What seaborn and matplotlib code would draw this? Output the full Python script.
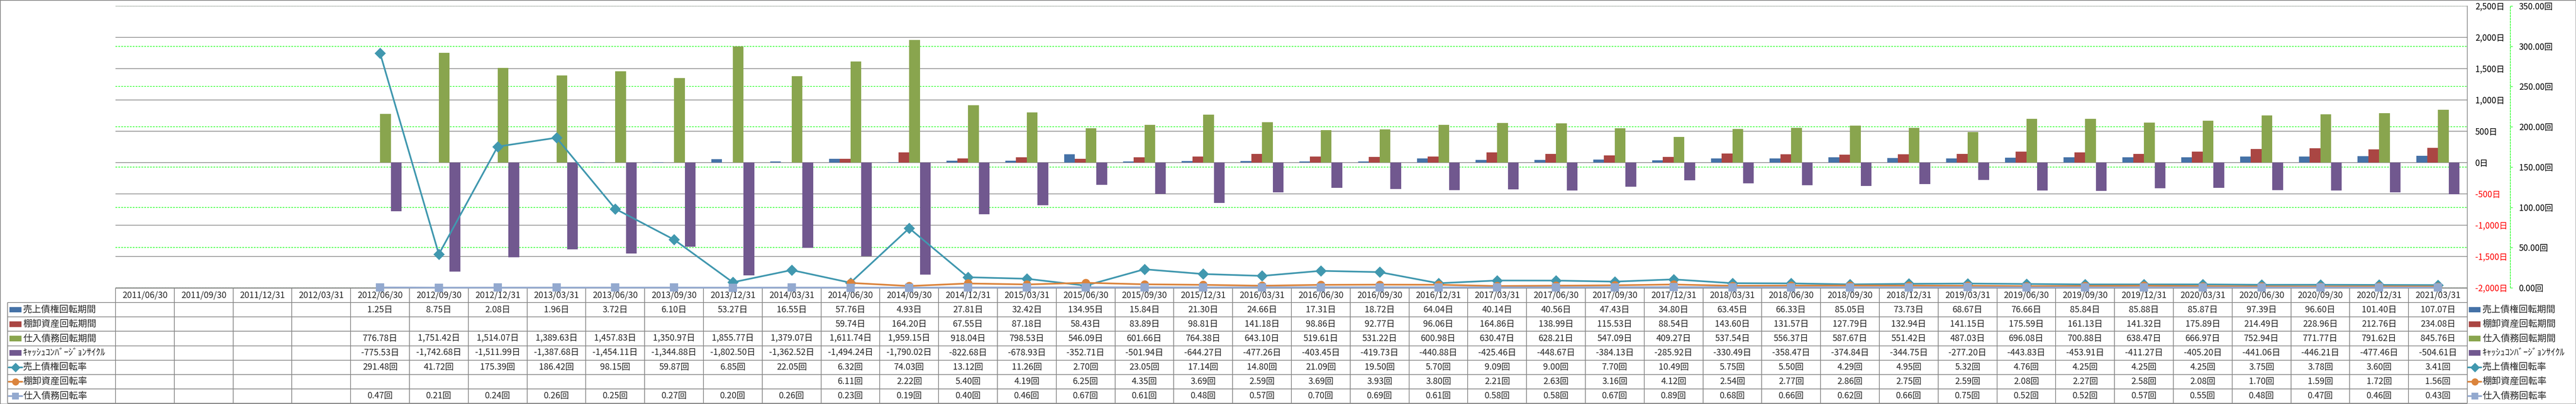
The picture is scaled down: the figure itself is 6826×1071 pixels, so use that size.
import numpy as np
import pandas as pd
import matplotlib
matplotlib.use("Agg")
import matplotlib.pyplot as plt
from matplotlib.path import Path
from matplotlib.patches import Rectangle
from matplotlib.lines import Line2D
import seaborn as sns

# ---------------- data ----------------
dates = ["2011/06/30", "2011/09/30", "2011/12/31", "2012/03/31",
         "2012/06/30", "2012/09/30", "2012/12/31", "2013/03/31",
         "2013/06/30", "2013/09/30", "2013/12/31", "2014/03/31",
         "2014/06/30", "2014/09/30", "2014/12/31", "2015/03/31",
         "2015/06/30", "2015/09/30", "2015/12/31", "2016/03/31",
         "2016/06/30", "2016/09/30", "2016/12/31", "2017/03/31",
         "2017/06/30", "2017/09/30", "2017/12/31", "2018/03/31",
         "2018/06/30", "2018/09/30", "2018/12/31", "2019/03/31",
         "2019/06/30", "2019/09/30", "2019/12/31", "2020/03/31",
         "2020/06/30", "2020/09/30", "2020/12/31", "2021/03/31"]

sales_days = [None, None, None, None,
              1.25, 8.75, 2.08, 1.96, 3.72, 6.10, 53.27, 16.55,
              57.76, 4.93, 27.81, 32.42, 134.95, 15.84, 21.30, 24.66,
              17.31, 18.72, 64.04, 40.14, 40.56, 47.43, 34.80, 63.45,
              66.33, 85.05, 73.73, 68.67, 76.66, 85.84, 85.88, 85.87,
              97.39, 96.60, 101.40, 107.07]
inv_days = [None, None, None, None, None, None, None, None, None, None, None, None,
            59.74, 164.20, 67.55, 87.18, 58.43, 83.89, 98.81, 141.18,
            98.86, 92.77, 96.06, 164.86, 138.99, 115.53, 88.54, 143.60,
            131.57, 127.79, 132.94, 141.15, 175.59, 161.13, 141.32, 175.89,
            214.49, 228.96, 212.76, 234.08]
pay_days = [None, None, None, None,
            776.78, 1751.42, 1514.07, 1389.63, 1457.83, 1350.97, 1855.77, 1379.07,
            1611.74, 1959.15, 918.04, 798.53, 546.09, 601.66, 764.38, 643.10,
            519.61, 531.22, 600.98, 630.47, 628.21, 547.09, 409.27, 537.54,
            556.37, 587.67, 551.42, 487.03, 696.08, 700.88, 638.47, 666.97,
            752.94, 771.77, 791.62, 845.76]
ccc_days = [None, None, None, None,
            -775.53, -1742.68, -1511.99, -1387.68, -1454.11, -1344.88, -1802.50, -1362.52,
            -1494.24, -1790.02, -822.68, -678.93, -352.71, -501.94, -644.27, -477.26,
            -403.45, -419.73, -440.88, -425.46, -448.67, -384.13, -285.92, -330.49,
            -358.47, -374.84, -344.75, -277.20, -443.83, -453.91, -411.27, -405.20,
            -441.06, -446.21, -477.46, -504.61]
sales_turn = [None, None, None, None,
              291.48, 41.72, 175.39, 186.42, 98.15, 59.87, 6.85, 22.05,
              6.32, 74.03, 13.12, 11.26, 2.70, 23.05, 17.14, 14.80,
              21.09, 19.50, 5.70, 9.09, 9.00, 7.70, 10.49, 5.75,
              5.50, 4.29, 4.95, 5.32, 4.76, 4.25, 4.25, 4.25,
              3.75, 3.78, 3.60, 3.41]
inv_turn = [None, None, None, None, None, None, None, None, None, None, None, None,
            6.11, 2.22, 5.40, 4.19, 6.25, 4.35, 3.69, 2.59,
            3.69, 3.93, 3.80, 2.21, 2.63, 3.16, 4.12, 2.54,
            2.77, 2.86, 2.75, 2.59, 2.08, 2.27, 2.58, 2.08,
            1.70, 1.59, 1.72, 1.56]
pay_turn = [None, None, None, None,
            0.47, 0.21, 0.24, 0.26, 0.25, 0.27, 0.20, 0.26,
            0.23, 0.19, 0.40, 0.46, 0.67, 0.61, 0.48, 0.57,
            0.70, 0.69, 0.61, 0.58, 0.58, 0.67, 0.89, 0.68,
            0.66, 0.62, 0.66, 0.75, 0.52, 0.52, 0.57, 0.55,
            0.48, 0.47, 0.46, 0.43]

bar_names = ["売上債権回転期間", "棚卸資産回転期間", "仕入債務回転期間", "ｷｬｯｼｭｺﾝﾊﾞｰｼﾞｮﾝｻｲｸﾙ"]
line_names = ["売上債権回転率", "棚卸資産回転率", "仕入債務回転率"]
bar_colors = ["#4572A7", "#AA4643", "#89A54E", "#71588F"]
line_colors = ["#4198AF", "#DB843D", "#93A9CF"]

day_ticks = [2500, 2000, 1500, 1000, 500, 0, -500, -1000, -1500, -2000]
turn_ticks = [0, 50, 100, 150, 200, 250, 300, 350]

# ---------------- style ----------------
sns.set_theme(style="white")
plt.rcParams["font.family"] = ["Noto Sans CJK JP", "DejaVu Sans"]

W, H, DPI = 6826, 1071, 100
fig = plt.figure(figsize=(W / DPI, H / DPI), dpi=DPI)
fig.patch.set_facecolor("white")

PL, PR, PT, PB = 306, 6538, 16, 763
TT, TBT = 764, 1069
n = len(dates)
rect = [PL / W, 1 - PB / H, (PR - PL) / W, (PB - PT) / H]
GRAY = "#868686"
GREEN = "#00FF00"

# secondary-axis grid layer (below bars)
ax_g = fig.add_axes(rect, zorder=0)
ax_g.set_xlim(-0.5, n - 0.5)
ax_g.set_ylim(0, 350)
ax_g.set_yticks(turn_ticks)
ax_g.set_xticks([])
ax_g.yaxis.grid(True, color=GREEN, linestyle=(0, (3, 2)), linewidth=1.1)
ax_g.tick_params(left=False, right=False, labelleft=False, labelright=False)
for s in ax_g.spines.values():
    s.set_visible(False)

# bars
ax = fig.add_axes(rect, zorder=1)
ax.patch.set_visible(False)
ax2 = ax.twinx()
ax2.set_zorder(2)
ax2.patch.set_visible(False)

bar_vals = [np.array(v, dtype=float) for v in (sales_days, inv_days, pay_days, ccc_days)]
bar_df = pd.DataFrame({
    "date": dates * 4,
    "series": np.repeat(bar_names, n),
    "value": np.concatenate(bar_vals),
}).dropna()
sns.barplot(data=bar_df, x="date", y="value", hue="series", order=dates,
            hue_order=bar_names, palette=bar_colors, saturation=1, width=0.73,
            errorbar=None, linewidth=0, legend=False, ax=ax)

# lines
diamond = Path([(0, 1), (1, 0), (0, -1), (-1, 0), (0, 1)],
               [Path.MOVETO, Path.LINETO, Path.LINETO, Path.LINETO, Path.CLOSEPOLY])
line_markers = [diamond, "o", "s"]
line_ms = [21.5, 16, 16]
for vals, col, mk, ms in zip((sales_turn, inv_turn, pay_turn), line_colors, line_markers, line_ms):
    d = pd.DataFrame({"date": dates, "value": np.array(vals, dtype=float)}).dropna()
    sns.pointplot(data=d, x="date", y="value", order=dates, color=col, markers=mk,
                  errorbar=None, linewidth=3.2, markersize=ms, markeredgewidth=0,
                  clip_on=False, ax=ax2)

# primary axis (days) on the right, next to the plot
ax.set_ylim(-2000, 2500)
ax.set_xlim(-0.5, n - 0.5)
ax.set_yticks(day_ticks, labels=[f"{v:,}日" for v in day_ticks])
ax.yaxis.tick_right()
ax.tick_params(axis="y", left=False, right=False, labelleft=False, labelright=True,
               length=0, pad=15, labelsize=16)
ax.tick_params(axis="x", bottom=False, labelbottom=False)
for tk, v in zip(ax.yaxis.get_major_ticks(), day_ticks):
    c = "#FF0000" if v < 0 else "black"
    tk.label1.set_color(c)
    tk.label2.set_color(c)
ax.yaxis.grid(True, color=GRAY, linewidth=1.3)
ax.set_axisbelow(True)
ax.set_xlabel("")
ax.set_ylabel("")
for k, s in ax.spines.items():
    s.set_visible(k == "right")
ax.spines["right"].set_color(GRAY)
ax.spines["right"].set_linewidth(1.3)

# secondary axis (turns) further right
ax2.set_ylim(0, 350)
ax2.set_xlim(-0.5, n - 0.5)
ax2.set_yticks(turn_ticks, labels=[f"{v:.2f}回" for v in turn_ticks])
ax2.tick_params(axis="y", right=True, length=4.3, width=1, color=GREEN, pad=12,
                labelsize=16, labelcolor="black")
ax2.set_xlabel("")
ax2.set_ylabel("")
for k, s in ax2.spines.items():
    s.set_visible(k == "right")
ax2.spines["right"].set_position(("outward", (6652 - PR) * 0.72))
ax2.spines["right"].set_color(GREEN)
ax2.spines["right"].set_linestyle((0, (3, 2)))
ax2.spines["right"].set_linewidth(1.1)

# ---------------- data table ----------------
tab = fig.add_axes([PL / W, 1 - TBT / H, (PR - PL) / W, (TBT - TT) / H], zorder=0.5)
tab.set_xlim(-0.5, n - 0.5)
tab.set_ylim(8, 0)
tab.axis("off")


def tx(px):
    return -0.5 + (px - PL) / (PR - PL) * n


lw_t = 1.4
tab.hlines(0, -0.5, n - 0.5, color=GRAY, lw=lw_t, clip_on=False)
for r in range(1, 9):
    tab.hlines(r, tx(20), n - 0.5, color=GRAY, lw=lw_t, clip_on=False)
for k in range(n + 1):
    tab.vlines(k - 0.5, 0, 8, color=GRAY, lw=lw_t, clip_on=False)
tab.vlines(tx(20), 1, 8, color=GRAY, lw=lw_t, clip_on=False)

for i, dt in enumerate(dates):
    tab.text(i, 0.5, dt, ha="center", va="center", fontsize=16.5, clip_on=False)

all_rows = [(sales_days, "日"), (inv_days, "日"), (pay_days, "日"), (ccc_days, "日"),
            (sales_turn, "回"), (inv_turn, "回"), (pay_turn, "回")]
for r, (vals, unit) in enumerate(all_rows, start=1):
    for i, v in enumerate(vals):
        if v is not None:
            tab.text(i, r + 0.5, f"{v:,.2f}{unit}", ha="center", va="center",
                     fontsize=16.5, clip_on=False)

all_names = bar_names + line_names


def legend_column(x_sw0, x_sw1, x_ln0, x_ln1, x_txt, fs):
    for r, name in enumerate(all_names, start=1):
        yc = r + 0.5
        if r <= 4:
            tab.add_patch(Rectangle((tx(x_sw0), yc - 0.19), tx(x_sw1) - tx(x_sw0), 0.38,
                                    facecolor=bar_colors[r - 1], edgecolor="none",
                                    clip_on=False))
        else:
            j = r - 5
            tab.add_line(Line2D([tx(x_ln0), tx(x_ln1)], [yc, yc], color=line_colors[j],
                                lw=3.2, clip_on=False))
            tab.add_line(Line2D([(tx(x_ln0) + tx(x_ln1)) / 2], [yc], color=line_colors[j],
                                marker=line_markers[j], markersize=line_ms[j] * 0.85,
                                markeredgewidth=0, clip_on=False))
        tab.text(tx(x_txt), yc, name, ha="left", va="center", fontsize=fs, clip_on=False)


legend_column(25, 57, 23, 59, 61, 17.5)
legend_column(6542, 6573, 6540, 6575, 6578, 17.5)

fig.add_artist(Rectangle((0, 0), 1, 1, transform=fig.transFigure, fill=False,
                         edgecolor=GRAY, linewidth=2))

fig.savefig("out.png", dpi=DPI, facecolor="white")
